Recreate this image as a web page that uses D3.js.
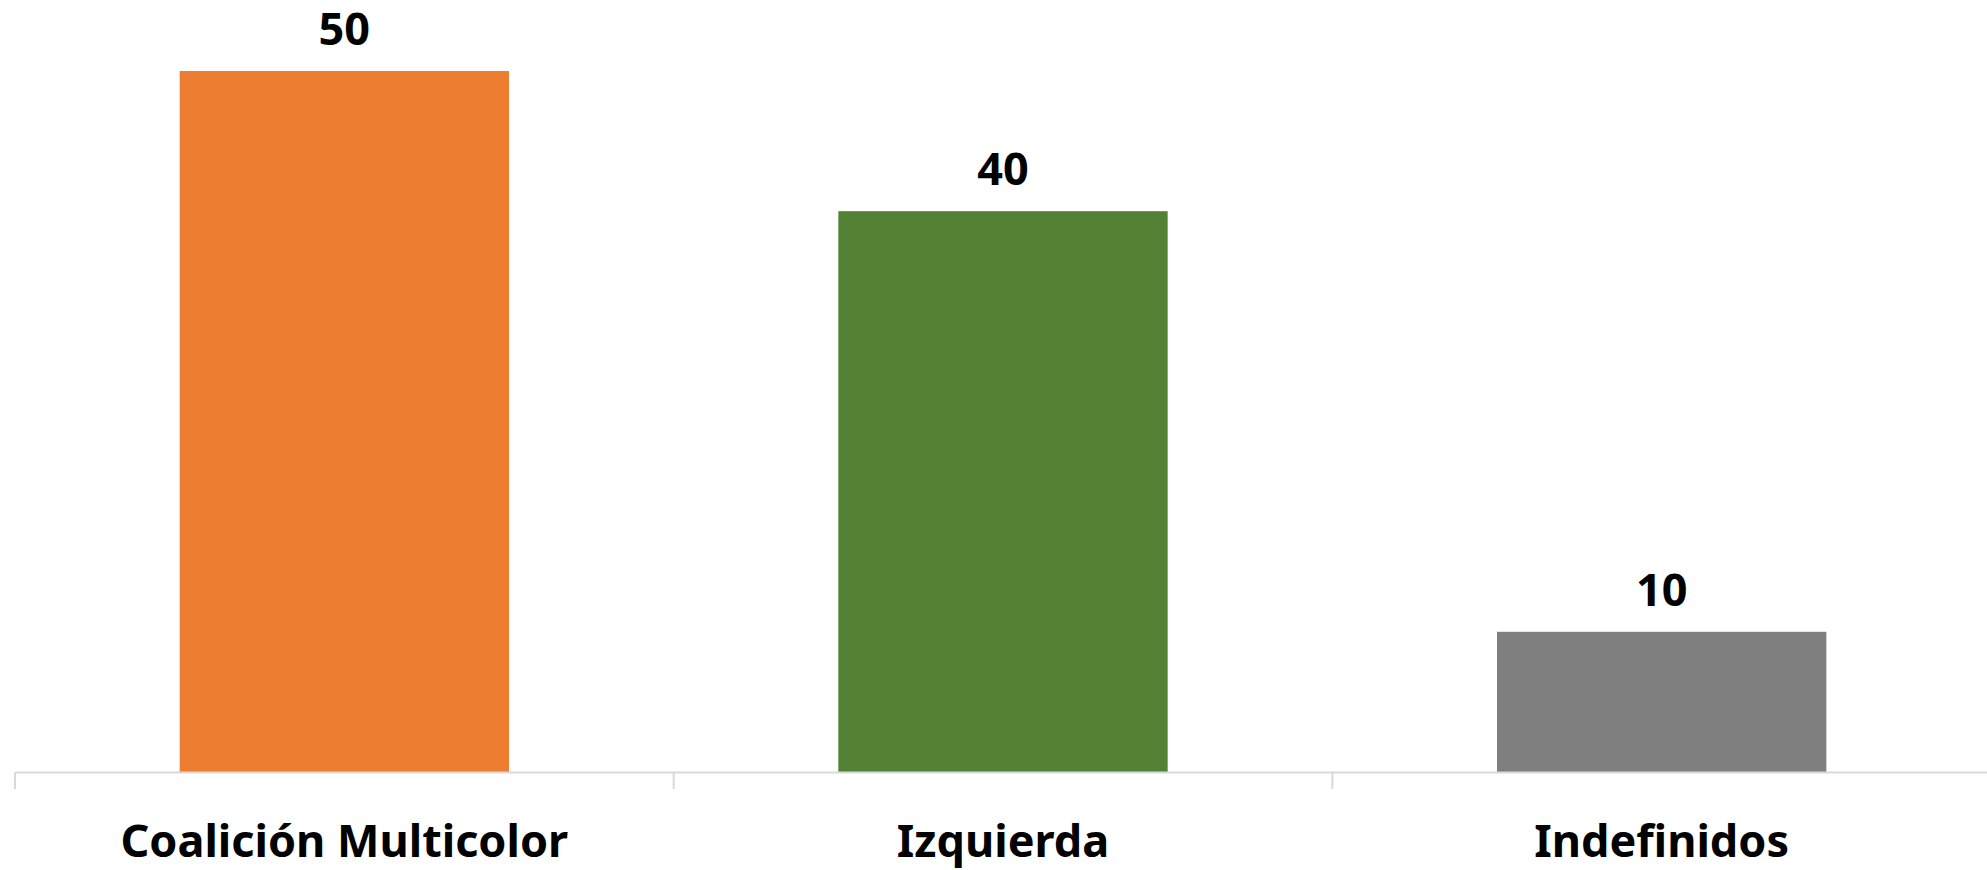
<!DOCTYPE html>
<html>
<head>
<meta charset="utf-8">
<script src="https://cdn.jsdelivr.net/npm/d3@7"></script>
<style>
  body { margin: 0; background: #fff; }
  text { font-family: "Noto Sans", "Open Sans", sans-serif; font-weight: bold; fill: #000; }
</style>
</head>
<body>
<div id="chart"></div>
<script>
// chart data
const categories = ["Coalición Multicolor", "Izquierda", "Indefinidos"];
const values = [50, 40, 10];
const colors = ["#ED7D31", "#548235", "#7F7F7F"];

const width = 1987, height = 870;
const baseline = 772, plotTop = 71;

const svg = d3.select("#chart")
  .append("svg")
    .attr("width", width)
    .attr("height", height);

// x scale, bands split the full width
const x = d3.scaleBand()
  .domain(categories)
  .range([15, 1991])
  .paddingInner(0.5)
  .paddingOuter(0.25);

const y = d3.scaleLinear()
  .domain([0, d3.max(values)])
  .range([baseline, plotTop]);

// bars
svg.selectAll("rect.bar")
  .data(categories)
  .join("rect")
    .attr("class", "bar")
    .attr("x", d => x(d))
    .attr("y", (d, i) => y(values[i]))
    .attr("width", x.bandwidth())
    .attr("height", (d, i) => baseline - y(values[i]))
    .style("fill", (d, i) => colors[i]);

// value labels
svg.selectAll("text.value")
  .data(categories)
  .join("text")
    .attr("class", "value")
    .attr("x", d => x(d) + x.bandwidth() / 2)
    .attr("y", (d, i) => y(values[i]) - 26)
    .attr("text-anchor", "middle")
    .style("font-size", "45px")
    .text((d, i) => values[i]);

// axis line with tick marks at band edges
const step = x.step();
const edges = categories.map(d => x(d) - step * 0.25).concat([x(categories[categories.length - 1]) + x.bandwidth() + step * 0.25]);

svg.append("line")
  .attr("x1", 15).attr("x2", width)
  .attr("y1", baseline + 0.5).attr("y2", baseline + 0.5)
  .style("stroke", "#d9d9d9")
  .style("stroke-width", 2);

svg.selectAll("line.tick")
  .data(edges)
  .join("line")
    .attr("class", "tick")
    .attr("x1", d => d).attr("x2", d => d)
    .attr("y1", baseline).attr("y2", baseline + 17)
    .style("stroke", "#d9d9d9")
    .style("stroke-width", 2);

// category labels
svg.selectAll("text.cat")
  .data(categories)
  .join("text")
    .attr("class", "cat")
    .attr("x", d => x(d) + x.bandwidth() / 2)
    .attr("y", 857)
    .attr("text-anchor", "middle")
    .style("font-size", "45px")
    .text(d => d);
</script>
</body>
</html>
